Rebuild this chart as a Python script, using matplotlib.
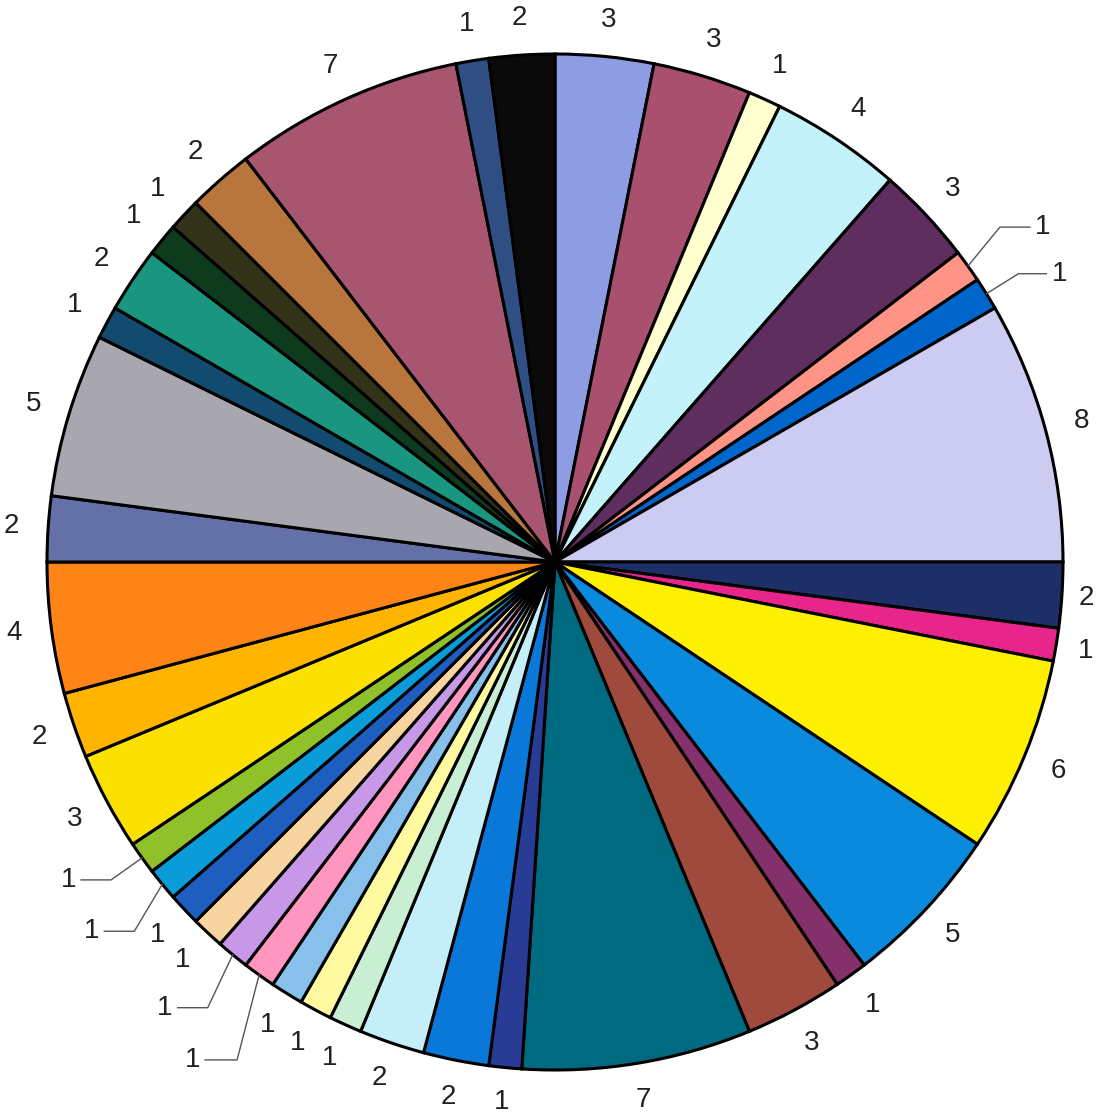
import matplotlib.pyplot as plt
import numpy as np

plt.rcParams['font.family'] = ['Liberation Sans', 'DejaVu Sans']

# slice counts, clockwise from 12 o'clock
counts = [3, 3, 1, 4, 3, 1, 1, 8, 2, 1, 6, 5, 1, 3, 7, 1, 2, 2, 1, 1,
          1, 1, 1, 1, 1, 1, 1, 3, 2, 4, 2, 5, 1, 2, 1, 1, 2, 7, 1, 2]

colors = ['#8e9ce4', '#a8506e', '#ffffd0', '#c4f2fa', '#5e2e5e', '#ff9486',
          '#0066cc', '#ccccf2', '#1e2e66', '#e8258a', '#fff000', '#0a8adc',
          '#84306a', '#a04a3e', '#006a80', '#283c96', '#0a78d8', '#c4eef8',
          '#c8eed4', '#fffaa0', '#88c0ec', '#ff96c0', '#c898e8', '#f8d4a0',
          '#1e5ebe', '#0a9cd8', '#90c02a', '#fce000', '#ffb400', '#ff8418',
          '#6470a8', '#a8a6ae', '#124a70', '#1a9680', '#0e3a1e', '#33331a',
          '#b8763c', '#a85670', '#2e4e84', '#0a0a0a']

# slices whose labels sit out on a leader line: index -> (elbow dx, elbow dy, run)
leaders = {5: (32, 39, 30), 6: (32, 20, 28),
           21: (-22, -85, -32), 22: (-25, -53, -30),
           25: (-28, -47, -30), 26: (-31, -22, -30)}

W, H = 1096, 1115
cx, cy, R = 555, H - 562, 508

fig = plt.figure(figsize=(W / 100, H / 100), dpi=100)
ax = fig.add_axes([0, 0, 1, 1])

wedges, _ = ax.pie(counts, colors=colors, startangle=90, counterclock=False,
                   center=(cx, cy), radius=R, frame=True,
                   wedgeprops=dict(edgecolor='black', linewidth=2.2))
ax.set_xlim(0, W)
ax.set_ylim(0, H)
ax.axis('off')

for i, (w, n) in enumerate(zip(wedges, counts)):
    mid = np.deg2rad((w.theta1 + w.theta2) / 2)
    ux, uy = np.cos(mid), np.sin(mid)
    if i in leaders:
        ex, ey, run = leaders[i]
        x0, y0 = cx + R * ux, cy + R * uy
        x1, y1 = x0 + ex, y0 + ey
        x2 = x1 + run
        ax.plot([x0, x1, x2], [y0, y1, y1], color='#555555', lw=1.0)
        ax.text(x2 + (5 if run > 0 else -5), y1, str(n), fontsize=20,
                ha='left' if run > 0 else 'right', va='center', color='#222222')
    else:
        r = R * 1.073
        # keep labels near the figure edge inside the canvas
        tx = min(cx + r * ux, W - 10)
        ty = max(cy + r * uy, 13)
        ax.text(tx, ty, str(n), fontsize=20,
                ha='center', va='center', color='#222222')

plt.savefig('out.png', dpi=100, facecolor='white')
